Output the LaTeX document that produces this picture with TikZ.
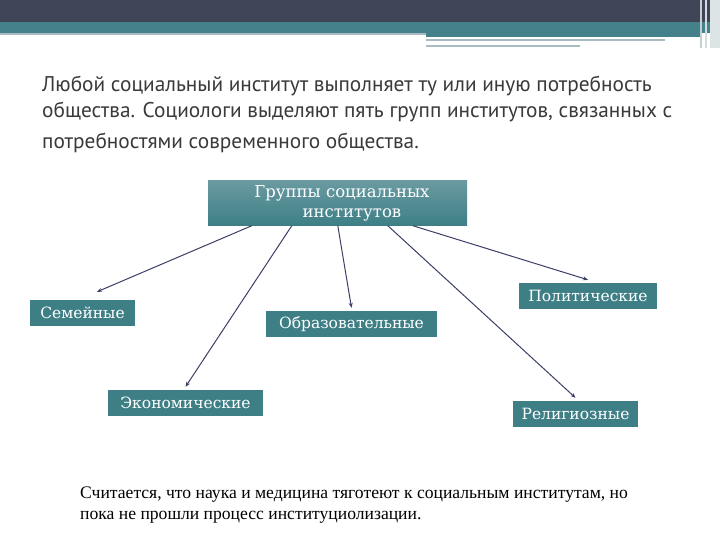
\documentclass[tikz,border=0pt]{standalone}
\usepackage{fontspec}
\setmainfont{Liberation Serif}
\newfontfamily\parafont{PT Sans}
\newfontfamily\boxfont{DejaVu Serif}
\usetikzlibrary{arrows.meta}

\definecolor{headdark}{HTML}{3F4556}
\definecolor{headteal}{HTML}{45818A}
\definecolor{headgrey}{HTML}{A9BBC0}
\definecolor{boxteal}{HTML}{3E7F86}
\definecolor{arrowblue}{HTML}{3B3F66}
\definecolor{paragrey}{HTML}{3A3A3A}

\tikzset{
  instbox/.style={fill=boxteal, text=white, minimum height=26pt, inner sep=0pt,
    font=\boxfont\fontsize{15.5}{18}\selectfont},
  conn/.style={draw=arrowblue, line width=1pt, -{Stealth[length=5pt,width=4pt]}}
}

\begin{document}
\begin{tikzpicture}[x=1pt, y=-1pt]
\useasboundingbox (0,0) rectangle (720,540);
\fill[white] (0,0) rectangle (720,540);
% header
\fill[headdark] (0,0) rectangle (720,22);
\fill[headteal] (0,22) rectangle (720,33);
\fill[headgrey] (0,33) rectangle (426,35);
\fill[headteal] (426,33) rectangle (700,37);
\fill[headgrey] (426,39) rectangle (665,41);
\fill[headgrey] (426,45) rectangle (580,47);
\fill[headgrey!70!white] (700,0) rectangle (702,48);
\fill[headgrey!50!white] (705,0) rectangle (707,48);
\fill[headgrey!40!white] (710,0) rectangle (720,48);

% text on top
\node[anchor=north west, align=left, text=paragrey, inner sep=0pt,
  font=\parafont\fontsize{21.3}{26}\selectfont] (intro) at (42,76)
  {Любой социальный институт выполняет ту или иную потребность\\
   общества. Социологи выделяют пять групп институтов, связанных с\\[5pt]
   потребностями современного общества.};

% groups
\node[top color=headteal!80!white, bottom color=boxteal, text=white, minimum width=259pt,
  minimum height=45pt, inner sep=0pt, align=center,
  font=\boxfont\fontsize{16.5}{20}\selectfont] (grp) at (337.5,203)
  {\hspace*{9pt}Группы социальных\\\hspace*{29pt}институтов};

\node[instbox, minimum width=105pt] (fam) at (82.5,313) {Семейные};
\node[instbox, minimum width=171pt] (edu) at (351.5,324) {Образовательные};
\node[instbox, minimum width=155pt] (eco) at (185.5,403) {Экономические};
\node[instbox, minimum width=138pt] (pol) at (588,296) {Политические};
\node[instbox, minimum width=125pt] (rel) at (575.5,414) {Религиозные};

\draw[conn] ([xshift=44pt]grp.south west) -- ([xshift=14.5pt,yshift=8pt]fam.north);
\draw[conn] ([xshift=84pt]grp.south west) -- ([yshift=3pt]eco.north);
\draw[conn] ([xshift=130pt]grp.south west) -- ([yshift=3pt]edu.north);
\draw[conn] ([xshift=180pt]grp.south west) -- ([yshift=3pt]rel.north);
\draw[conn] ([xshift=205pt]grp.south west) -- ([yshift=3pt]pol.north);

% note at the bottom
\node[anchor=north west, align=left, inner sep=0pt,
  font=\fontsize{17.6}{21}\selectfont] (note) at (80,487)
  {Считается, что наука и медицина тяготеют к социальным институтам, но\\
   пока не прошли процесс институциолизации.};
\end{tikzpicture}
\end{document}
